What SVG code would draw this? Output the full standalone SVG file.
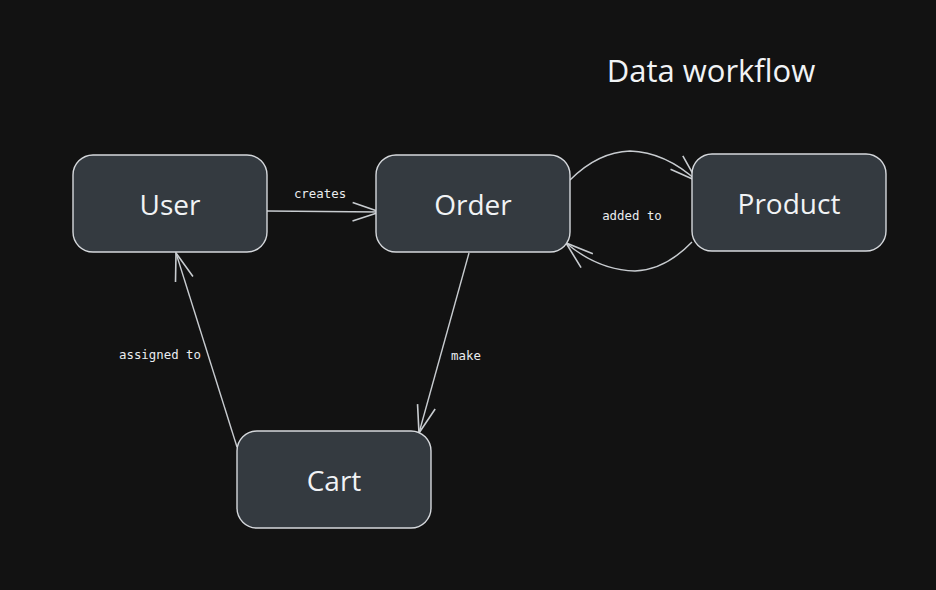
<svg xmlns="http://www.w3.org/2000/svg" width="936" height="590" viewBox="0 0 936 590">
<style>
.node rect{fill:#343a40;stroke:#d5d8dc;stroke-width:1.4}
.node text,.title{font-family:"Open Sans","Noto Sans",sans-serif;font-size:28px;fill:#f1f3f5;text-anchor:middle;dominant-baseline:central}
.title{font-size:31px}
.edge{fill:none;stroke:#c8ccd0;stroke-width:1.4}
.lbl{font-family:"DejaVu Sans Mono","Liberation Mono",monospace;font-size:12.4px;fill:#e9ecef;text-anchor:middle;dominant-baseline:central}
</style>
<defs>
<marker id="ah" markerUnits="userSpaceOnUse" orient="auto" markerWidth="40" markerHeight="40" refX="0" refY="0" viewBox="-30 -15 35 30" overflow="visible">
<path d="M-24,-8 L0,0 L-24,8" fill="none" stroke="#c8ccd0" stroke-width="1.4"/>
</marker>
</defs>
<rect width="936" height="590" fill="#121212"/>
<text class="title" x="711" y="70">Data workflow</text>
<g id="connectors">
<path class="edge" d="M267,211 L380,212" marker-end="url(#ah)"/>
<path class="edge" d="M570,180 Q598,152 630,151 Q665,152 697,181" marker-end="url(#ah)"/>
<path class="edge" d="M692,242 Q665,270 635,271 Q598,270 566,243" marker-end="url(#ah)"/>
<path class="edge" d="M469,253 L419,433" marker-end="url(#ah)"/>
<path class="edge" d="M237,447 L176,253" marker-end="url(#ah)"/>
<text class="lbl" x="320" y="193">creates</text>
<text class="lbl" x="632" y="215">added to</text>
<text class="lbl" x="466" y="355">make</text>
<text class="lbl" x="160" y="354">assigned to</text>
</g>
<g id="user" class="node"><rect x="73" y="155" width="194" height="97" rx="20"/><text x="170" y="204">User</text></g>
<g id="order" class="node"><rect x="376" y="155" width="194" height="97" rx="20"/><text x="473" y="204">Order</text></g>
<g id="product" class="node"><rect x="692" y="154" width="194" height="97" rx="20"/><text x="789" y="203">Product</text></g>
<g id="cart" class="node"><rect x="237" y="431" width="194" height="97" rx="20"/><text x="334" y="480">Cart</text></g>
</svg>
